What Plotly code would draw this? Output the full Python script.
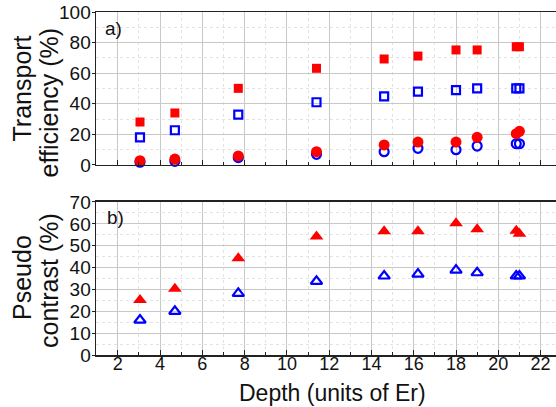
import plotly.graph_objects as go

depth = [3.05, 4.7, 7.7, 11.4, 14.6, 16.2, 18.0, 19.0, 20.85, 21.0]
trans_red_sq = [28.1, 34.0, 50.1, 63.2, 69.3, 71.2, 75.2, 75.2, 77.3, 77.3]
trans_blue_sq = [18.1, 22.7, 32.9, 41.0, 44.9, 47.9, 49.0, 50.1, 50.1, 50.1]
trans_red_ci = [2.8, 3.9, 5.9, 8.7, 13.1, 15.0, 15.0, 18.1, 20.5, 22.0]
trans_blue_ci = [1.8, 2.4, 4.8, 7.0, 8.7, 10.9, 10.0, 12.4, 13.9, 13.9]
contrast_red = [25.2, 30.4, 44.3, 54.2, 56.6, 56.6, 60.3, 57.5, 56.9, 55.5]
contrast_blue = [16.1, 20.1, 28.3, 33.8, 36.2, 37.1, 38.9, 37.7, 36.2, 36.2]

RED = "#ff0000"
BLUE = "#0000ff"
FONT = "Liberation Sans, Arial, sans-serif"
TXT = "#111"

fig = go.Figure()

def add(y, sym, color, size, yaxis, open_=False):
    m = dict(symbol=sym, size=size, color=color)
    if open_:
        m["line"] = dict(color=color, width=2.2)
    else:
        m["line"] = dict(width=0)
    fig.add_trace(go.Scatter(x=depth, y=y, mode="markers", marker=m,
                             xaxis="x" if yaxis == "y" else "x2", yaxis=yaxis,
                             showlegend=False, cliponaxis=False, hoverinfo="skip"))

add(trans_blue_ci, "circle-open", BLUE, 9, "y", True)
add(trans_red_ci, "circle", RED, 11, "y")
add(trans_blue_sq, "square-open", BLUE, 8, "y", True)
add(trans_red_sq, "square", RED, 9, "y")
add(contrast_blue, "triangle-up-open", BLUE, 10, "y2", True)
add(contrast_red, "triangle-up", RED, 12, "y2")

xr = [0.97, 22.73]
xcommon = dict(range=xr, dtick=2, tick0=0, showline=True, linecolor="#222", linewidth=1.5,
               mirror=True, ticks="inside", ticklen=5, tickcolor="#222", automargin=False,
               showgrid=True, gridcolor="#c8c8c8", gridwidth=1, zeroline=False,
               minor=dict(dtick=1, ticks="inside", ticklen=3, tickcolor="#222",
                          showgrid=True, gridcolor="#e3e3e3", griddash="dot"),
               tickfont=dict(family=FONT, size=18, color=TXT))
ycommon = dict(showline=True, linecolor="#222", linewidth=1.5, ticks="outside", ticklen=3,
               tickcolor="#222", showgrid=True, gridcolor="#c8c8c8", zeroline=False,
               automargin=False, ticklabelstandoff=-3,
               tickfont=dict(family=FONT, size=19, color=TXT))

def ann(text, x, y, size, angle=0, xanchor="center"):
    return dict(text=text, xref="paper", yref="paper", x=x, y=y, xanchor=xanchor,
                yanchor="middle", textangle=angle, showarrow=False,
                font=dict(family=FONT, size=size, color=TXT))

fig.update_layout(
    width=556, height=407, margin=dict(l=0, r=0, t=0, b=0, autoexpand=False),
    plot_bgcolor="white", paper_bgcolor="white",
    xaxis=dict(xcommon, domain=[0.1727, 1], anchor="y", showticklabels=False),
    yaxis=dict(ycommon, domain=[0.5946, 0.9705], range=[0, 100], dtick=20, anchor="x",
               minor=dict(dtick=10, showgrid=True, gridcolor="#e3e3e3", griddash="dot")),
    xaxis2=dict(xcommon, domain=[0.1727, 1], anchor="y2", ticklabelstandoff=-8),
    yaxis2=dict(ycommon, domain=[0.1270, 0.5037], range=[0, 70], dtick=10, anchor="x2",
                minor=dict(dtick=5, showgrid=True, gridcolor="#e3e3e3", griddash="dot")),
    annotations=[
        ann("Transport", 0.0396, 0.7826, 25, -90),
        ann("efficiency (%)", 0.0881, 0.7482, 25, -90),
        ann("Pseudo", 0.0396, 0.3170, 25, -90),
        ann("contrast (%)", 0.0881, 0.3120, 25, -90),
        ann("Depth (units of Er)", 0.598, 0.035, 23),
        ann("a)", 0.1853, 0.9312, 19, xanchor="left"),
        ann("b)", 0.1888, 0.4668, 19, xanchor="left"),
    ],
)

fig.write_html("out.html", config={"displayModeBar": False, "staticPlot": True},
               post_script="document.body.style.margin='0';document.body.style.overflow='hidden';")
